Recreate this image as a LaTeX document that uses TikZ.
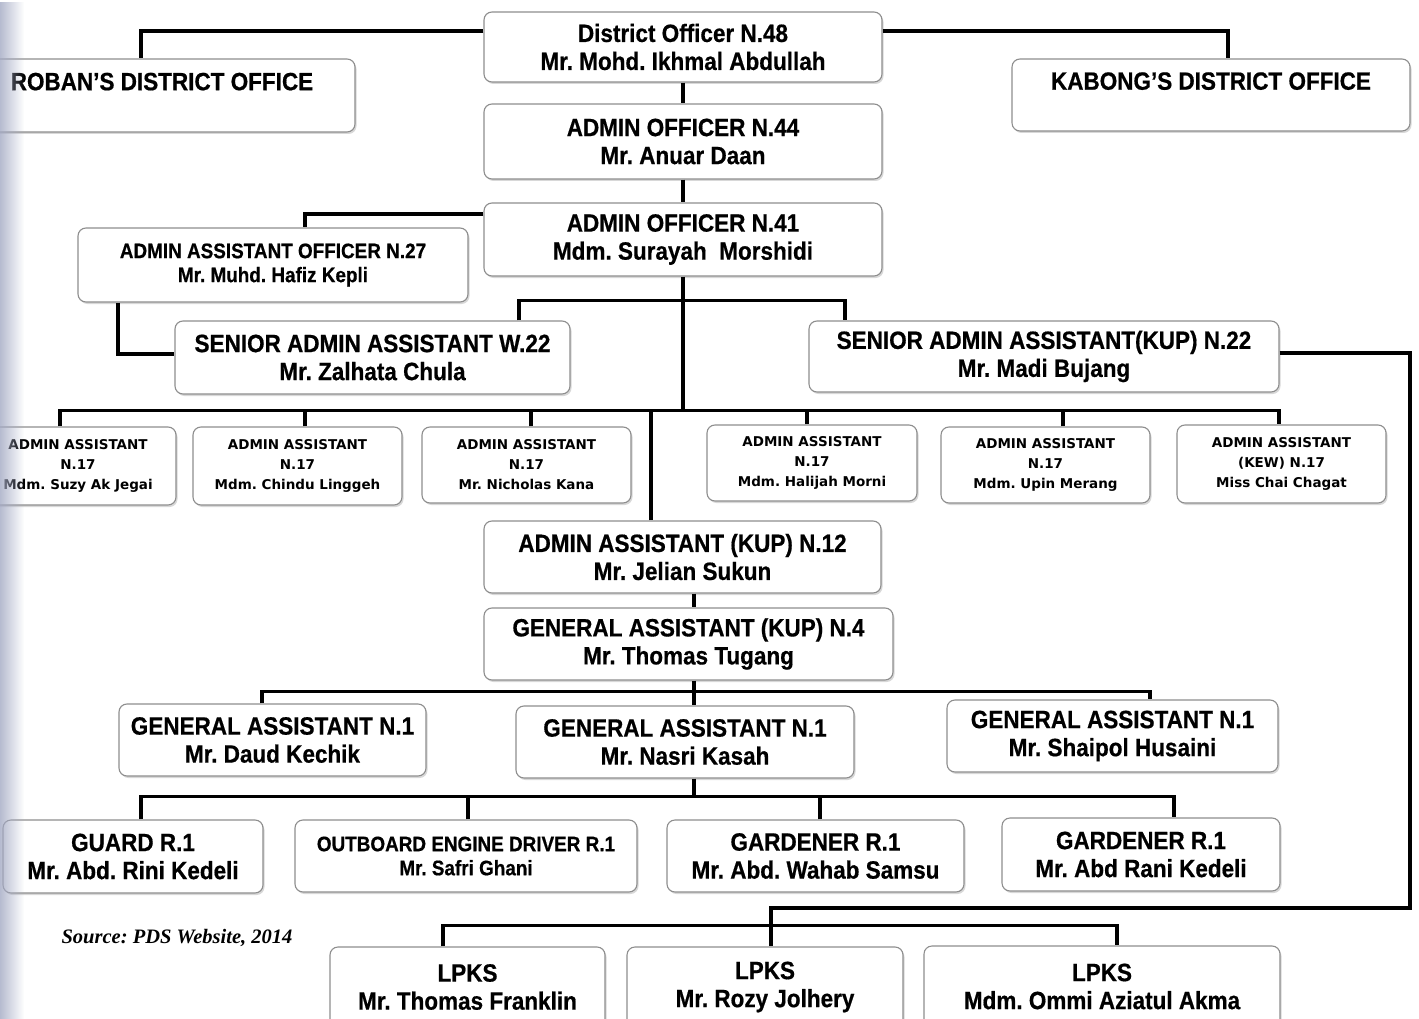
\documentclass[tikz,border=0pt]{standalone}
\usepackage{fontspec}
\usetikzlibrary{shadows,fadings}
\newfontfamily\mainf{Liberation Sans}[FakeStretch=0.9, BoldFeatures={FakeBold=0.6}]
\newfontfamily\smallf{DejaVu Sans}
\newfontfamily\srcf{Liberation Serif}
\definecolor{boxline}{HTML}{8E8E8E}
\definecolor{strip}{HTML}{A4AAC4}
\frenchspacing
% box from corner (x1,y1) to (x2,y2), in pixels of the reference
\newcommand\bx[7][]{\node[box,#1,minimum width={(#5)-(#3)},minimum height={(#6)-(#4)}]
  (#2) at ({((#3)+(#5))/2},{((#4)+(#6))/2}) {#7};}
\begin{document}
\begin{tikzpicture}[x=1pt,y=-1pt,
  box/.style={draw=boxline, line width=1.1pt, rounded corners=8pt, fill=white, inner sep=0pt, align=center,
    drop shadow={shadow xshift=1.5pt, shadow yshift=-2pt, fill=black!30, opacity=0.5}},
  big/.style={font=\mainf\bfseries\fontsize{25}{28}\selectfont},
  mid/.style={font=\mainf\bfseries\fontsize{21}{24}\selectfont},
  sml/.style={font=\smallf\bfseries\fontsize{13.5}{20}\selectfont},
  conn/.style={draw=black, line width=3.7pt}
]
\useasboundingbox (0,0) rectangle (1419,1019);
\fill[white] (0,0) rectangle (1419,1019);

% ---- boxes
\bx[big]{do}{484}{12}{882}{82}{District Officer N.48\\Mr. Mohd. Ikhmal Abdullah}
\bx[big]{roban}{-31}{59}{355}{132}{ROBAN’S DISTRICT OFFICE\\\mbox{}}
\bx[big]{kabong}{1012}{59}{1410}{131}{KABONG’S DISTRICT OFFICE\\\mbox{}}
\bx[big]{ao44}{484}{104}{882}{179}{ADMIN OFFICER N.44\\Mr. Anuar Daan}
\bx[big]{ao41}{484}{203}{882}{276}{ADMIN OFFICER N.41\\Mdm. Surayah\ \ Morshidi}
\bx[mid]{aao27}{78}{228}{468}{302}{ADMIN ASSISTANT OFFICER N.27\\Mr. Muhd. Hafiz Kepli}
\bx[big]{saw22}{175}{321}{570}{394}{SENIOR ADMIN ASSISTANT W.22\\Mr. Zalhata Chula}
\bx[big]{sakup}{809}{321}{1279}{392}{SENIOR ADMIN ASSISTANT(KUP) N.22\\Mr. Madi Bujang}

\bx[sml]{a1}{-20}{427}{176}{505}{ADMIN ASSISTANT\\N.17\\Mdm. Suzy Ak Jegai}
\bx[sml]{a2}{193}{427}{402}{505}{ADMIN ASSISTANT\\N.17\\Mdm. Chindu Linggeh}
\bx[sml]{a3}{422}{427}{631}{503}{ADMIN ASSISTANT\\N.17\\Mr. Nicholas Kana}
\bx[sml]{a4}{707}{425}{917}{501}{ADMIN ASSISTANT\\N.17\\Mdm. Halijah Morni}
\bx[sml]{a5}{941}{427}{1150}{503}{ADMIN ASSISTANT\\N.17\\Mdm. Upin Merang}
\bx[sml]{a6}{1177}{425}{1386}{503}{ADMIN ASSISTANT\\(KEW) N.17\\Miss Chai Chagat}

\bx[big]{aakup}{484}{521}{881}{593}{ADMIN ASSISTANT (KUP) N.12\\Mr. Jelian Sukun}
\bx[big]{gakup}{484}{608}{893}{680}{GENERAL ASSISTANT (KUP) N.4\\Mr. Thomas Tugang}
\bx[big]{ga1}{119}{704}{426}{776}{GENERAL ASSISTANT N.1\\Mr. Daud Kechik}
\bx[big]{ga2}{516}{706}{854}{778}{GENERAL ASSISTANT N.1\\Mr. Nasri Kasah}
\bx[big]{ga3}{947}{700}{1278}{772}{GENERAL ASSISTANT N.1\\Mr. Shaipol Husaini}

\bx[big]{guard}{3}{820}{263}{893}{GUARD R.1\\Mr. Abd. Rini Kedeli}
\bx[mid]{obd}{295}{820}{637}{892}{OUTBOARD ENGINE DRIVER R.1\\Mr. Safri Ghani}
\bx[big]{gd1}{667}{820}{964}{892}{GARDENER R.1\\Mr. Abd. Wahab Samsu}
\bx[big]{gd2}{1002}{818}{1280}{891}{GARDENER R.1\\Mr. Abd Rani Kedeli}

\bx[big]{lp1}{330}{947}{605}{1027}{LPKS\\Mr. Thomas Franklin}
\bx[big]{lp2}{627}{947}{903}{1027}{LPKS\\Mr. Rozy Jolhery}
\bx[big]{lp3}{924}{946}{1280}{1027}{LPKS\\Mdm. Ommi Aziatul Akma}

\node[font=\srcf\bfseries\itshape\fontsize{20.5}{24}\selectfont] (src) at (177,938) {Source: PDS Website, 2014};

% ---- junction coordinates
\coordinate (j1) at ([yshift=-24pt]ao41.south);
\coordinate (bus) at ([yshift=-134pt]ao41.south);
\coordinate (cAA) at ([xshift=11.5pt]aakup.south);
\coordinate (bus2) at ([xshift=5.5pt,yshift=-11pt]gakup.south);
\coordinate (bus3) at ([xshift=9pt,yshift=-18pt]ga2.south);
\coordinate (rc) at (1410,908);
\coordinate (bus4) at ([xshift=6pt,yshift=21pt]lp2.north);

% ---- connectors
\draw[conn] ([yshift=16pt]do.west) -| ([xshift=-21pt]roban.north);
\draw[conn] ([yshift=16pt]do.east) -| ([xshift=17pt]kabong.north);
\draw[conn] (do.south) -- (ao44.north);
\draw[conn] (ao44.south) -- (ao41.north);
\draw[conn] ([yshift=25.5pt]ao41.west) -| ([xshift=32pt]aao27.north);
\draw[conn] ([xshift=-155pt]aao27.south) |- ([yshift=3.5pt]saw22.west);
\draw[conn] (ao41.south) -- (bus);
\draw[conn] ([xshift=146.5pt]saw22.north) |- (j1) -| ([xshift=-199pt]sakup.north);
\draw[conn] ([xshift=-18pt]a1.north) |- (bus) -| ([xshift=-2.5pt]a6.north);
\draw[conn] ([xshift=7.5pt]a2.north) |- (bus);
\draw[conn] ([xshift=4.5pt]a3.north) |- (bus);
\draw[conn] ([xshift=-5pt]a4.north) |- (bus);
\draw[conn] ([xshift=17.5pt]a5.north) |- (bus);
\draw[conn] ([xshift=-31.5pt]aakup.north) |- (bus);
\draw[conn] (cAA) -- (cAA |- gakup.north);
\draw[conn] ([xshift=5.5pt]gakup.south) -- ([xshift=9pt]ga2.north);
\draw[conn] ([xshift=-10.5pt]ga1.north) |- (bus2) -| ([xshift=37.5pt]ga3.north);
\draw[conn] ([xshift=9pt]ga2.south) -- (bus3);
\draw[conn] ([xshift=8pt]guard.north) |- (bus3) -| ([xshift=33pt]gd2.north);
\draw[conn] ([xshift=2pt]obd.north) |- (bus3);
\draw[conn] ([xshift=4.5pt]gd1.north) |- (bus3);
\draw[conn] ([yshift=3.5pt]sakup.east) -| (rc) -| ([xshift=6pt]lp2.north);
\draw[conn] ([xshift=-24.5pt]lp1.north) |- (bus4) -| ([xshift=15pt]lp3.north);

% ---- scanned page edge
\fill[strip, path fading=east, opacity=0.8] (0,0) rectangle (24,1019);
\end{tikzpicture}
\end{document}
